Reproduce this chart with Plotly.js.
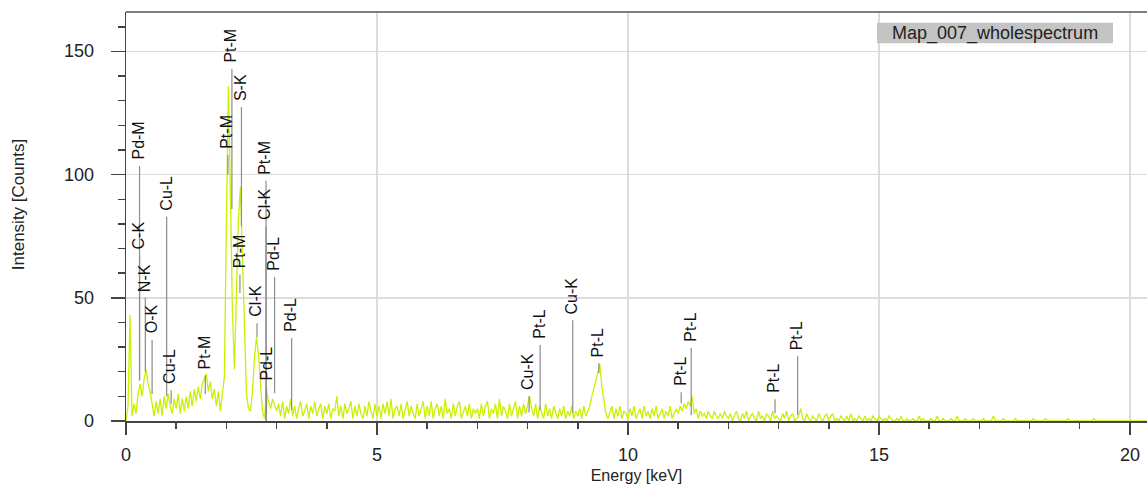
<!DOCTYPE html>
<html>
<head>
<meta charset="utf-8">
<script src="https://cdn.plot.ly/plotly-3.0.1.min.js"></script>
<style>html,body{margin:0;padding:0;background:#fff;}#chart{width:1147px;height:484px;}</style>
</head>
<body>
<div id="chart"></div>
<script>
// ---- Spectrum data (channel width 0.04 keV, starting at 0 keV) ----
const channelStart = 0;
const channelStep = 0.04;
const counts_0_4 = [
  0, 6, 43, 2, 7, 3, 11, 15, 10, 17, 21, 15, 12, 6, 2, 8, 3, 9, 2, 10, 5, 11, 6, 3, 9,
  5, 11, 3, 9, 4, 10, 5, 12, 6, 13, 8, 14, 9, 15, 17, 19, 12, 16, 9, 13, 6, 12, 4, 10, 18,
  80, 136, 92, 45, 21, 48, 82, 95, 68, 32, 11, 5, 4, 12, 26, 34, 27, 15, 4, 1, 12, 8, 5, 9, 6,
  4, 7, 2, 8, 1, 6, 3, 9, 2, 6, 1, 5, 8, 2, 4, 7, 1, 6, 3, 8, 2, 5, 7, 1, 6
];
const counts_4_8 = [
  3, 7, 1, 5, 4, 10, 2, 6, 1, 7, 3, 5, 8, 1, 6, 2, 7, 3, 1, 6, 2, 8, 4, 1, 7,
  2, 6, 1, 7, 3, 8, 2, 9, 1, 5, 6, 2, 7, 1, 4, 8, 2, 6, 3, 1, 7, 2, 5, 8, 1,
  6, 2, 8, 1, 5, 7, 2, 6, 1, 9, 3, 5, 1, 7, 2, 6, 8, 1, 4, 6, 2, 7, 1, 5, 3,
  5, 1, 7, 2, 6, 8, 1, 5, 3, 7, 1, 9, 2, 6, 4, 1, 7, 2, 5, 8, 1, 6, 2, 7, 3
];
const counts_8_12 = [
  6, 10, 5, 2, 7, 1, 6, 3, 1, 7, 2, 5, 1, 6, 3, 1, 5, 2, 6, 1, 4, 2, 6, 1, 4,
  2, 5, 1, 6, 2, 4, 6, 10, 13, 17, 20, 23, 14, 8, 3, 1, 4, 6, 1, 5, 2, 6, 1, 4, 3,
  1, 5, 2, 6, 1, 3, 5, 1, 6, 2, 4, 1, 5, 2, 6, 1, 3, 5, 1, 4, 2, 6, 1, 3, 5,
  3, 6, 4, 7, 5, 8, 6, 10, 3, 5, 1, 4, 2, 3, 1, 4, 2, 1, 4, 2, 1, 3, 1, 4, 2
];
const counts_12_16 = [
  1, 3, 0, 2, 4, 1, 0, 3, 1, 4, 0, 2, 3, 1, 0, 4, 1, 2, 0, 3, 2, 0, 4, 1, 2,
  1, 0, 3, 1, 4, 0, 2, 3, 0, 1, 2, 5, 1, 0, 3, 1, 0, 2, 1, 0, 3, 1, 0, 2, 3,
  0, 2, 3, 0, 1, 0, 2, 1, 0, 2, 0, 3, 0, 1, 0, 2, 1, 0, 2, 0, 1, 0, 2, 1, 0,
  2, 1, 0, 1, 0, 2, 1, 0, 0, 1, 0, 2, 0, 0, 1, 0, 0, 1, 0, 0, 2, 0, 1, 0, 0
];
const counts_16_end = [
  0, 1, 0, 0, 2, 0, 0, 1, 0, 0, 0, 1, 0, 0, 2, 0, 0, 0, 1, 0, 0, 0, 1, 0, 0,
  0, 0, 1, 0, 0, 0, 0, 2, 0, 0, 0, 0, 1, 0, 0, 0, 0, 0, 1, 0, 0, 0, 0, 0, 0,
  0, 0, 1, 0, 0, 0, 0, 0, 1, 0, 0, 0, 0, 0, 0, 0, 0, 0, 0, 1, 0, 0, 0, 0, 0,
  0, 0, 0, 0, 0, 0, 0, 1, 0, 0, 0, 0, 0, 0, 0, 0, 0, 0, 0, 0, 0, 0, 0, 0, 0,
  0, 0, 0, 0, 0, 0, 0, 0, 0
];

// ---- Element line markers ----
const markerLabels = ['Pd-M','C-K','N-K','O-K','Cu-L','Cu-L','Pt-M','Pt-M','Pt-M','S-K','Pt-M','Cl-K','Pt-M','Cl-K','Pd-L','Pd-L','Pd-L',
                      'Cu-K','Pt-L','Cu-K','Pt-L','Pt-L','Pt-L','Pt-L','Pt-L'];
const markerEnergy = [0.27, 0.27, 0.385, 0.52, 0.81, 0.90, 1.58, 2.03, 2.11, 2.30, 2.27, 2.61, 2.79, 2.79, 2.80, 2.96, 3.30,
                      8.03, 8.25, 8.90, 9.42, 11.06, 11.26, 12.93, 13.38];
const markerTop    = [103.5, 67, 50, 33, 83, 12.5, 18.6, 108, 143, 127.4, 59.5, 39.7, 97.5, 79, 13.8, 58.4, 33.6,
                      10, 30.8, 40.9, 23.5, 11.7, 29.6, 8.8, 26.3];
const markerBottom = [16.5, 16.5, 20, 11, 10, 7, 11, 100, 86, 79, 52, 34, 0, 0, 3, 11.3, 4.4,
                      3.5, 4.4, 3.1, 19.4, 7.2, 2.3, 3.1, 2.3];

const xTicks = [0, 5, 10, 15, 20];
const yTicks = [0, 50, 100, 150];
const seriesName = 'Map_007_wholespectrum';
const xTitle = 'Energy [keV]';
const yTitle = 'Intensity [Counts]';

// ---- Build ----
const counts = [].concat(counts_0_4, counts_4_8, counts_8_12, counts_12_16, counts_16_end);
const energy = counts.map((_, i) => +(channelStart + i * channelStep).toFixed(3));

const FONT = 'Liberation Sans, Arial, Helvetica, sans-serif';

const shapes = [];
const annotations = [];
markerLabels.forEach((lab, i) => {
  shapes.push({type: 'line', xref: 'x', yref: 'y', x0: markerEnergy[i], x1: markerEnergy[i],
    y0: markerBottom[i], y1: markerTop[i], line: {color: '#8c8c8c', width: 1.2}, layer: 'above'});
  annotations.push({x: markerEnergy[i], y: markerTop[i], xref: 'x', yref: 'y', text: lab,
    showarrow: false, textangle: -90, xanchor: 'center', yanchor: 'bottom', yshift: 4, xshift: -1,
    font: {family: FONT, size: 16, color: '#111'}});
});

// y tick labels (drawn as text placed at the axis values)
yTicks.forEach(v => {
  annotations.push({xref: 'paper', yref: 'y', x: 0, y: v, xanchor: 'right', yanchor: 'middle', xshift: -30,
    text: String(v), showarrow: false, font: {family: FONT, size: 18, color: '#222'}});
});

// top frame line
shapes.push({type: 'line', xref: 'paper', yref: 'paper', x0: 0, x1: 1, y0: 1, y1: 1, line: {color: '#555', width: 1.5}});
// extended axis stubs at the origin
shapes.push({type: 'line', xref: 'x', yref: 'y', ysizemode: 'pixel', yanchor: 0, x0: 0, x1: 0, y0: -20, y1: 0, line: {color: '#444', width: 2}});
shapes.push({type: 'line', xref: 'x', yref: 'y', xsizemode: 'pixel', xanchor: 0, y0: 0, y1: 0, x0: -22, x1: 0, line: {color: '#444', width: 2}});
// series legend box
shapes.push({type: 'rect', xref: 'paper', yref: 'paper', x0: 0.7356, x1: 0.9667, y0: 0.9234, y1: 0.9739,
  fillcolor: '#c4c4c4', line: {width: 0}, layer: 'above'});
annotations.push({xref: 'paper', yref: 'paper', x: 0.7483, y: 0.9486, xanchor: 'left', yanchor: 'middle',
  text: seriesName, showarrow: false, font: {family: FONT, size: 18, color: '#222'}});
// y axis title
annotations.push({xref: 'paper', yref: 'paper', x: -0.1058, y: 0.53, xanchor: 'center', yanchor: 'middle',
  text: yTitle, showarrow: false, textangle: -90, font: {family: FONT, size: 17, color: '#222'}});

const trace = {
  x: energy, y: counts, type: 'scatter', mode: 'lines', name: seriesName,
  line: {color: '#c8f200', width: 1.3}, hoverinfo: 'x+y'
};

const layout = {
  width: 1147, height: 484,
  margin: {l: 126, r: 0, t: 12, b: 63, pad: 0},
  paper_bgcolor: '#fff', plot_bgcolor: '#fff',
  showlegend: false,
  font: {family: FONT, color: '#222'},
  xaxis: {
    range: [0, 20.34], tickmode: 'array', tickvals: xTicks, ticktext: xTicks.map(String),
    ticks: 'outside', ticklen: 12, tickwidth: 2, tickcolor: '#444', ticklabelstandoff: 5,
    showline: true, linecolor: '#444', linewidth: 1.5,
    showgrid: true, gridcolor: '#dcdcdc', gridwidth: 1.5, zeroline: false,
    minor: {dtick: 1, ticks: 'outside', ticklen: 6, tickwidth: 1.5, tickcolor: '#444', showgrid: false},
    tickfont: {family: FONT, size: 18, color: '#222'},
    title: {text: xTitle, font: {family: FONT, size: 16, color: '#222'}, standoff: 5}
  },
  yaxis: {
    range: [0, 166], tickmode: 'array', tickvals: yTicks, showticklabels: false,
    ticks: 'outside', ticklen: 14, tickwidth: 1.5, tickcolor: '#444',
    showline: true, linecolor: '#444', linewidth: 1.5,
    showgrid: true, gridcolor: '#dcdcdc', gridwidth: 1.5, zeroline: false,
    minor: {dtick: 10, ticks: 'outside', ticklen: 7, tickwidth: 1.5, tickcolor: '#444', showgrid: false}
  },
  shapes: shapes,
  annotations: annotations
};

Plotly.newPlot('chart', [trace], layout, {displayModeBar: false, staticPlot: true});
</script>
</body>
</html>
